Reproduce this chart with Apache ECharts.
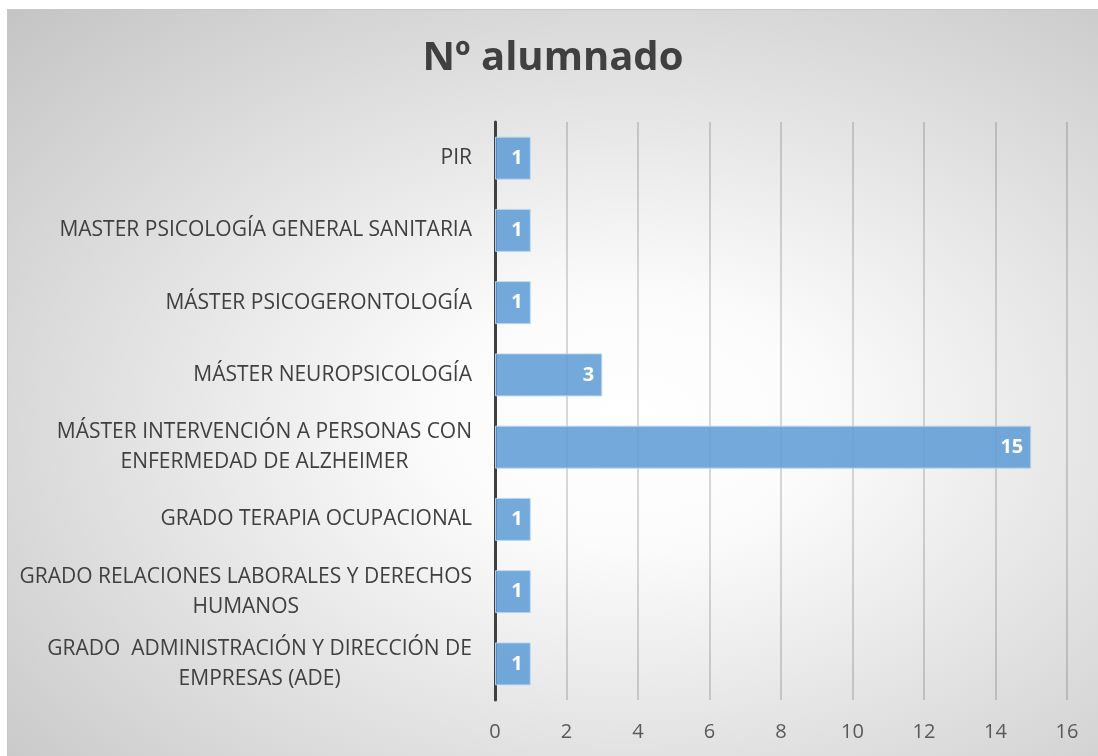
<!DOCTYPE html>
<html>
<head>
<meta charset="utf-8">
<script src="https://cdn.jsdelivr.net/npm/echarts@6/dist/echarts.min.js"></script>
<style>
html,body{margin:0;padding:0;background:#fff;}
#main{position:absolute;left:7px;top:9px;width:1091px;height:747px;
  border-top:1px solid #c8c8c8;border-left:1px solid #c8c8c8;box-sizing:border-box;
  background:radial-gradient(ellipse at 57% 55%, #ffffff 0%, #fbfbfb 22%, #c4c4c4 100%);}
</style>
</head>
<body>
<div id="main"></div>
<script>
// categorias de abajo a arriba (como en Excel)
var categorias = [
    'GRADO  ADMINISTRACIÓN Y DIRECCIÓN DE\nEMPRESAS (ADE)',
    'GRADO RELACIONES LABORALES Y DERECHOS\nHUMANOS',
    'GRADO TERAPIA OCUPACIONAL',
    'MÁSTER INTERVENCIÓN A PERSONAS CON\nENFERMEDAD DE ALZHEIMER',
    'MÁSTER NEUROPSICOLOGÍA',
    'MÁSTER PSICOGERONTOLOGÍA',
    'MASTER PSICOLOGÍA GENERAL SANITARIA',
    'PIR'
];
var alumnos = [1, 1, 1, 15, 3, 1, 1, 1];
var titulo = 'Nº alumnado';
var fuente = '"Open Sans", "Noto Sans", sans-serif';

var myCharts = echarts.init(document.getElementById('main'));

//cada linea centrada dentro del bloque
function etiqueta(v){
    return v.split('\n').map(function(l){ return '{c|' + l + '}'; }).join('\n');
}

var option = {
    title: {
        text: titulo,
        left: 'center',
        top: 24,
        textStyle: {fontFamily: fuente, fontSize: 40, fontWeight: 'bold', color: '#404040'}
    },
    grid: {left: 487, right: 31, top: 112, bottom: 56},
    xAxis: {
        type: 'value',
        min: 0,
        max: 16,
        interval: 2,
        axisLine: {show: false},
        axisTick: {show: false},
        axisLabel: {fontFamily: fuente, fontSize: 20, color: '#595959', margin: 22},
        splitLine: {lineStyle: {color: 'rgba(0,0,0,0.2)', width: 1.5}}
    },
    yAxis: {
        type: 'category',
        data: categorias,
        axisTick: {show: false},
        axisLine: {lineStyle: {color: '#404040', width: 3}},
        axisLabel: {
            margin: 23,
            formatter: etiqueta,
            rich: {c: {align: 'center', fontFamily: fuente, fontSize: 21, color: '#404040', lineHeight: 30}}
        }
    },
    series: [{
        type: 'bar',
        data: alumnos,
        barWidth: 43,
        itemStyle: {color: 'rgba(91,155,213,0.85)', borderColor: 'rgba(189,215,238,0.9)', borderWidth: 1},
        label: {
            show: true,
            position: 'insideRight',
            distance: 8,
            fontFamily: fuente,
            fontSize: 20,
            fontWeight: 'bold',
            color: '#fff'
        }
    }]
};
myCharts.setOption(option);
</script>
</body>
</html>
